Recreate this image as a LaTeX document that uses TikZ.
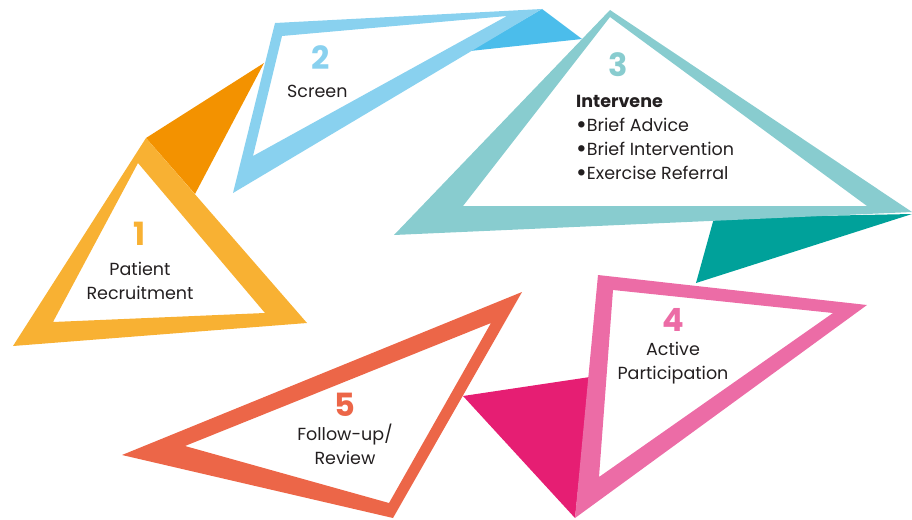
\documentclass[tikz,border=0pt]{standalone}
\usepackage{fontspec}
\setmainfont{Poppins}
\usetikzlibrary{positioning}

\definecolor{amber}{HTML}{F8B133}
\definecolor{amberdark}{HTML}{F39200}
\definecolor{sky}{HTML}{89D1EF}
\definecolor{skydark}{HTML}{4BBDEB}
\definecolor{aqua}{HTML}{88CCCF}
\definecolor{aquadark}{HTML}{00A19A}
\definecolor{rose}{HTML}{EC6CA6}
\definecolor{rosedark}{HTML}{E61E73}
\definecolor{coral}{HTML}{EC6648}
\definecolor{ink}{HTML}{231F20}

\newcommand{\blt}{\raisebox{-2.5pt}{\fontsize{26}{24}\selectfont\textbullet}}

\begin{document}
\begin{tikzpicture}[%
    x=1pt, y=-1pt,        % Work in pixels of the artwork, y pointing down
    even odd rule,        % A frame is its outer minus its inner triangle
    ]
% -------------------------------------------------
% Styles for the triangles and their labels
% (base of a multi-line label = baseline of its last line)
\tikzset{
  frame/.style={fill=#1},
  flap/.style={fill=#1},
  num/.style={font=\fontsize{32}{32}\selectfont\bfseries, inner sep=0pt},
  txt/.style={font=\fontsize{17.5}{24}\selectfont, text=ink, align=center,
    inner sep=0pt, anchor=base},
}
\useasboundingbox (0,0) rectangle (912,519);
% -------------------------------------------------
% Darker flaps first, the frames go over them
\fill [flap=amberdark] (146,138) -- (264,63) -- (195,194) -- cycle;
\fill [flap=skydark]   (542,9) -- (582,39) -- (470,51) -- cycle;
\fill [flap=aquadark]  (714,218) -- (696,283) -- (912,214) -- cycle;
\fill [flap=rosedark]  (463,396) -- (590,377) -- (575,518) -- cycle;

% The five frames
\fill [frame=amber] (146,138) -- (307,323) -- (13,346) -- cycle
                    (138,163) -- (265,313) -- (53,322) -- cycle;
\fill [frame=sky]   (275,23) -- (542,9) -- (233,193) -- cycle
                    (282,36) -- (507,16) -- (253,156) -- cycle;
\fill [frame=aqua]  (610,10) -- (912,212) -- (394,235) -- cycle
                    (610,17) -- (867,206) -- (463,206) -- cycle;
\fill [frame=rose]  (598,275) -- (867,305) -- (575,518) -- cycle
                    (613,290) -- (833,313) -- (599,477) -- cycle;
\fill [frame=coral] (522,292) -- (393,518) -- (122,455) -- cycle
                    (491,323) -- (389,503) -- (185,446) -- cycle;

% -------------------------------------------------
% Step numbers and texts
\node [num, text=amber] (n1) at (140,234) {1};
\node [txt] (t1) at (140,299) {Patient\\Recruitment};

\node [num, text=sky] (n2) at (321,58) {2};
\node [txt, anchor=base west] (t2) at (287,97) {Screen};

\node [num, text=aqua] (n3) at (618,65) {3};
\node [txt, align=left, anchor=base west] (t3) at (576,179)
  {\textbf{Intervene}\\\blt Brief Advice\\\blt Brief Intervention\\\blt Exercise Referral};

\node [num, text=rose] (n4) at (673,320) {4};
\node [txt] (t4) at (673,379) {Active\\Participation};

\node [num, text=coral] (n5) at (345,405) {5};
\node [txt] (t5) at (345,464) {Follow-up/\\Review};
% -------------------------------------------------
\end{tikzpicture}
\end{document}
